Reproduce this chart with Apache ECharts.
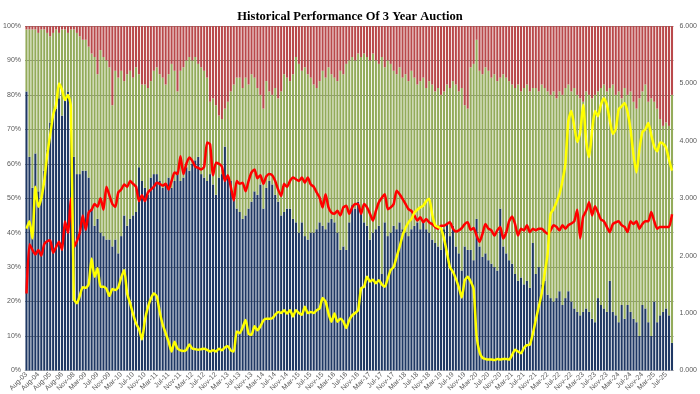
<!DOCTYPE html>
<html>
<head>
<meta charset="utf-8">
<script src="https://cdn.jsdelivr.net/npm/echarts@6/dist/echarts.min.js"></script>
<style>
html,body{margin:0;padding:0;background:#fff;}
#chart{width:700px;height:394px;}
</style>
</head>
<body>
<div id="chart"></div>
<script>
const categories = [
'Aug-03','Nov-03','Feb-04','May-04','Aug-04','Nov-04','Feb-05','May-05','Aug-05','Nov-05','Feb-06','May-06','Aug-06','Nov-06','Feb-07','May-07',
'Nov-08','Dec-08',
'Jan-09','Feb-09','Mar-09','Apr-09','May-09','Jun-09','Jul-09','Aug-09','Sep-09','Oct-09','Nov-09','Dec-09',
'Jan-10','Feb-10','Mar-10','Apr-10','May-10','Jun-10','Jul-10','Aug-10','Sep-10','Oct-10','Nov-10','Dec-10',
'Jan-11','Feb-11','Mar-11','Apr-11','May-11','Jun-11','Jul-11','Aug-11','Sep-11','Oct-11','Nov-11','Dec-11',
'Jan-12','Feb-12','Mar-12','Apr-12','May-12','Jun-12','Jul-12','Aug-12','Sep-12','Oct-12','Nov-12','Dec-12',
'Jan-13','Feb-13','Mar-13','Apr-13','May-13','Jun-13','Jul-13','Aug-13','Sep-13','Oct-13','Nov-13','Dec-13',
'Jan-14','Feb-14','Mar-14','Apr-14','May-14','Jun-14','Jul-14','Aug-14','Sep-14','Oct-14','Nov-14','Dec-14',
'Jan-15','Feb-15','Mar-15','Apr-15','May-15','Jun-15','Jul-15','Aug-15','Sep-15','Oct-15','Nov-15','Dec-15',
'Jan-16','Feb-16','Mar-16','Apr-16','May-16','Jun-16','Jul-16','Aug-16','Sep-16','Oct-16','Nov-16','Dec-16',
'Jan-17','Feb-17','Mar-17','Apr-17','May-17','Jun-17','Jul-17','Aug-17','Sep-17','Oct-17','Nov-17','Dec-17',
'Jan-18','Feb-18','Mar-18','Apr-18','May-18','Jun-18','Jul-18','Aug-18','Sep-18','Oct-18','Nov-18','Dec-18',
'Jan-19','Feb-19','Mar-19','Apr-19','May-19','Jun-19','Jul-19','Aug-19','Sep-19','Oct-19','Nov-19','Dec-19',
'Jan-20','Feb-20','Mar-20','Apr-20','May-20','Jun-20','Jul-20','Aug-20','Sep-20','Oct-20','Nov-20','Dec-20',
'Jan-21','Feb-21','Mar-21','Apr-21','May-21','Jun-21','Jul-21','Aug-21','Sep-21','Oct-21','Nov-21','Dec-21',
'Jan-22','Feb-22','Mar-22','Apr-22','May-22','Jun-22','Jul-22','Aug-22','Sep-22','Oct-22','Nov-22','Dec-22',
'Jan-23','Feb-23','Mar-23','Apr-23','May-23','Jun-23','Jul-23','Aug-23','Sep-23','Oct-23','Nov-23','Dec-23',
'Jan-24','Feb-24','Mar-24','Apr-24','May-24','Jun-24','Jul-24','Aug-24','Sep-24','Oct-24','Nov-24','Dec-24',
'Jan-25','Feb-25','Mar-25','Apr-25','May-25','Jun-25','Jul-25','Aug-25','Sep-25'
];

// bottom (blue) share of each auction, %
const blueShare = [
81,62,53,63,52,50,58,64,72,74,76,79,74,79,81,70,
62,57,57,58,58,56,47,42,44,40,
39,38,38,36,38,34,39,45,42,44,
45,46,59,55,53,51,56,57,57,55,
53,54,56,53,55,58,55,56,59,58,
60,61,62,57,56,55,57,54,51,56,
57,65,56,55,51,47,46,
44,45,47,49,52,51,54,47,
53,55,54,51,49,45,46,47,47,44,
43,40,43,39,38,40,40,41,43,42,
41,43,44,43,40,35,36,35,43,48,
47,49,46,43,42,38,40,41,42,28,
43,39,40,42,41,43,41,40,39,41,
42,43,41,43,41,40,38,37,36,35,
41,43,39,42,36,34,
29,36,35,35,32,44,36,33,34,
32,31,30,29,47,36,34,32,31,28,
26,27,25,26,24,37,28,30,25,26,
22,21,20,21,23,19,21,23,20,18,
17,16,17,18,17,15,14,21,19,18,
17,26,17,16,14,19,15,19,17,15,
14,10,19,18,14,10,20,14,16,17,
18,16,8
];

// top (red) share of each auction, %
const redShare = [
1,1,1,1,2,1,1,2,3,2,1,2,1,1,2,1,
1,2,3,4,4,6,8,9,14,7,
9,10,12,23,13,15,13,16,14,13,
15,12,14,17,17,18,16,13,12,14,
15,17,14,11,13,19,13,12,10,9,
10,9,11,12,13,15,22,21,23,26,
27,24,22,19,17,15,15,
18,15,17,14,15,18,20,24,
16,19,20,18,21,19,14,15,16,14,
9,11,13,12,14,15,17,18,16,13,
15,12,14,15,16,13,14,11,10,9,
10,8,9,8,9,10,8,10,11,9,
12,10,11,13,14,12,15,14,16,13,
15,17,16,15,18,16,17,19,18,20,
19,17,18,16,17,19,
18,23,24,12,11,4,13,14,12,
13,15,14,16,15,14,15,16,17,18,
17,19,18,17,19,18,18,19,17,18,
19,20,19,21,19,20,18,17,19,18,
20,21,22,19,20,21,20,19,18,17,
19,18,17,20,19,21,18,20,19,22,
24,21,19,17,22,21,22,24,27,29,
28,29,20
];

// high yield, % (right axis)
const highYield = [
2.47,2.6,2.3,3.2,2.85,3.0,3.3,3.75,4.1,4.45,4.63,5.0,4.89,4.71,4.8,4.6,
1.25,1.17,1.3,1.45,1.44,1.5,1.95,1.63,1.78,1.46,
1.46,1.42,1.3,1.42,1.4,1.45,1.62,1.75,1.34,1.17,
0.98,0.82,0.72,0.54,0.88,1.1,1.25,1.34,1.29,1.02,
0.8,0.65,0.5,0.33,0.5,0.38,0.35,0.34,0.36,0.45,
0.38,0.37,0.36,0.37,0.38,0.36,0.33,0.35,0.33,0.38,
0.35,0.4,0.42,0.35,0.33,0.68,0.65,
0.75,0.88,0.64,0.62,0.77,0.7,0.77,0.87,
0.9,0.9,0.91,0.97,1.02,1.0,1.05,0.99,1.05,0.94,
1.05,1.0,0.97,1.11,1.0,1.02,1.0,1.05,1.08,1.26,
1.2,0.99,0.85,0.99,0.85,0.9,0.85,0.74,0.88,0.96,
1.0,1.05,1.43,1.46,1.63,1.55,1.58,1.52,1.57,1.5,
1.46,1.6,1.75,1.8,1.98,2.15,2.35,2.48,2.58,2.64,
2.75,2.8,2.84,2.87,2.95,2.99,2.72,2.53,2.5,2.47,
2.3,2.05,1.8,1.72,1.6,1.45,
1.27,1.57,1.63,1.55,1.42,0.6,0.32,0.22,0.2,
0.19,0.19,0.18,0.2,0.19,0.2,0.2,0.19,0.27,0.36,
0.33,0.3,0.39,0.44,0.45,0.64,0.88,1.11,1.34,1.69,
2.03,2.73,2.81,2.93,3.07,3.3,3.6,4.35,4.52,4.25,
3.98,4.15,4.63,4.0,3.72,4.17,4.52,4.43,4.63,4.74,
4.63,4.35,4.12,4.2,4.55,4.6,4.66,4.5,4.2,3.75,
3.45,3.85,4.15,4.2,4.31,4.1,3.9,3.82,3.97,3.95,
3.88,3.67,3.48
];

// bid-to-cover (right axis)
const bidToCover = [
1.34,2.2,2.1,2.02,2.1,2.0,2.2,2.25,2.27,2.05,2.15,2.24,2.1,2.6,2.4,3.0,
2.15,2.25,2.4,2.7,2.45,2.75,2.8,2.9,2.85,3.0,
2.8,3.2,3.05,2.9,2.85,3.1,3.15,3.24,3.2,3.3,
3.25,3.2,2.95,3.05,2.95,3.1,3.15,3.2,3.27,3.25,
3.22,3.25,3.15,3.3,3.45,3.42,3.73,3.42,3.6,3.71,
3.65,3.55,3.53,3.5,3.55,3.97,3.94,3.4,3.62,3.6,
3.55,3.3,3.4,3.2,2.96,3.3,3.25,
3.27,3.12,3.3,3.45,3.5,3.35,3.4,3.25,
3.38,3.42,3.4,3.3,3.15,3.04,3.25,3.2,3.3,3.36,
3.33,3.3,3.36,3.27,3.36,3.24,3.2,3.1,3.01,2.84,
3.07,2.84,2.75,2.73,2.78,2.7,2.84,2.87,2.73,2.84,
2.9,2.9,2.73,2.9,2.84,2.73,2.61,2.78,2.93,3.01,
3.07,2.81,2.84,2.9,3.13,3.07,2.99,2.9,2.81,2.78,
2.7,2.61,2.67,2.58,2.64,2.58,2.55,2.5,2.47,2.52,
2.52,2.55,2.58,2.47,2.42,2.44,
2.48,2.55,2.58,2.45,2.48,2.35,2.24,2.38,2.55,
2.47,2.44,2.35,2.44,2.5,2.3,2.4,2.6,2.68,2.55,
2.35,2.47,2.44,2.53,2.41,2.47,2.44,2.47,2.47,2.42,
2.38,2.44,2.53,2.5,2.44,2.53,2.47,2.53,2.56,2.6,
2.8,2.3,2.68,2.78,2.93,2.7,2.86,2.75,2.63,2.6,
2.5,2.41,2.55,2.58,2.6,2.53,2.5,2.41,2.6,2.55,
2.6,2.47,2.55,2.6,2.6,2.76,2.6,2.47,2.5,2.5,
2.5,2.5,2.72
];

const greenShare = blueShare.map((b, i) => +(100 - b - redShare[i]).toFixed(2));

const chart = echarts.init(document.getElementById('chart'), null, {renderer: 'canvas'});
const lblFont = {fontFamily: 'Liberation Sans', fontSize: 7, color: '#595959'};
chart.setOption({
  animation: false,
  backgroundColor: '#ffffff',
  title: {
    text: 'Historical Performance Of 3 Year Auction',
    left: 'center', top: 5,
    textStyle: {fontFamily: 'Liberation Serif', fontWeight: 'bold', fontSize: 12.5, color: '#000'}
  },
  grid: {left: 25, right: 26, top: 26, bottom: 21, containLabel: false},
  xAxis: {
    type: 'category', data: categories, boundaryGap: true,
    axisTick: {show: false},
    axisLine: {show: true, lineStyle: {color: '#bfbfbf'}},
    axisLabel: Object.assign({interval: 3, rotate: 45, margin: 3}, lblFont)
  },
  yAxis: [
    {type: 'value', min: 0, max: 100, interval: 10,
     axisLine: {show: false}, axisTick: {show: false},
     axisLabel: Object.assign({formatter: '{value}%', margin: 4}, lblFont),
     splitLine: {show: true, lineStyle: {color: '#8c8c8c', width: 1}}},
    {type: 'value', min: 0, max: 6, interval: 1,
     axisLine: {show: false}, axisTick: {show: false},
     axisLabel: Object.assign({formatter: v => v.toFixed(3), margin: 6}, lblFont),
     splitLine: {show: false}}
  ],
  series: [
    {name: 'Blue', type: 'bar', stack: 's', data: blueShare, barCategoryGap: '30%',
     itemStyle: {color: '#1f3864'}},
    {name: 'Green', type: 'bar', stack: 's', data: greenShare,
     itemStyle: {color: '#93ab5a'}},
    {name: 'Red', type: 'bar', stack: 's', data: redShare,
     itemStyle: {color: '#b9494b'}},
    {name: 'Bid to Cover', type: 'line', yAxisIndex: 1, data: bidToCover, symbol: 'none',
     smooth: 0.2, lineStyle: {color: '#ff0000', width: 2.5}, z: 3},
    {name: 'High Yield', type: 'line', yAxisIndex: 1, data: highYield, symbol: 'none',
     smooth: 0.2, lineStyle: {color: '#ffff00', width: 2.5}, z: 4}
  ]
});
</script>
</body>
</html>
